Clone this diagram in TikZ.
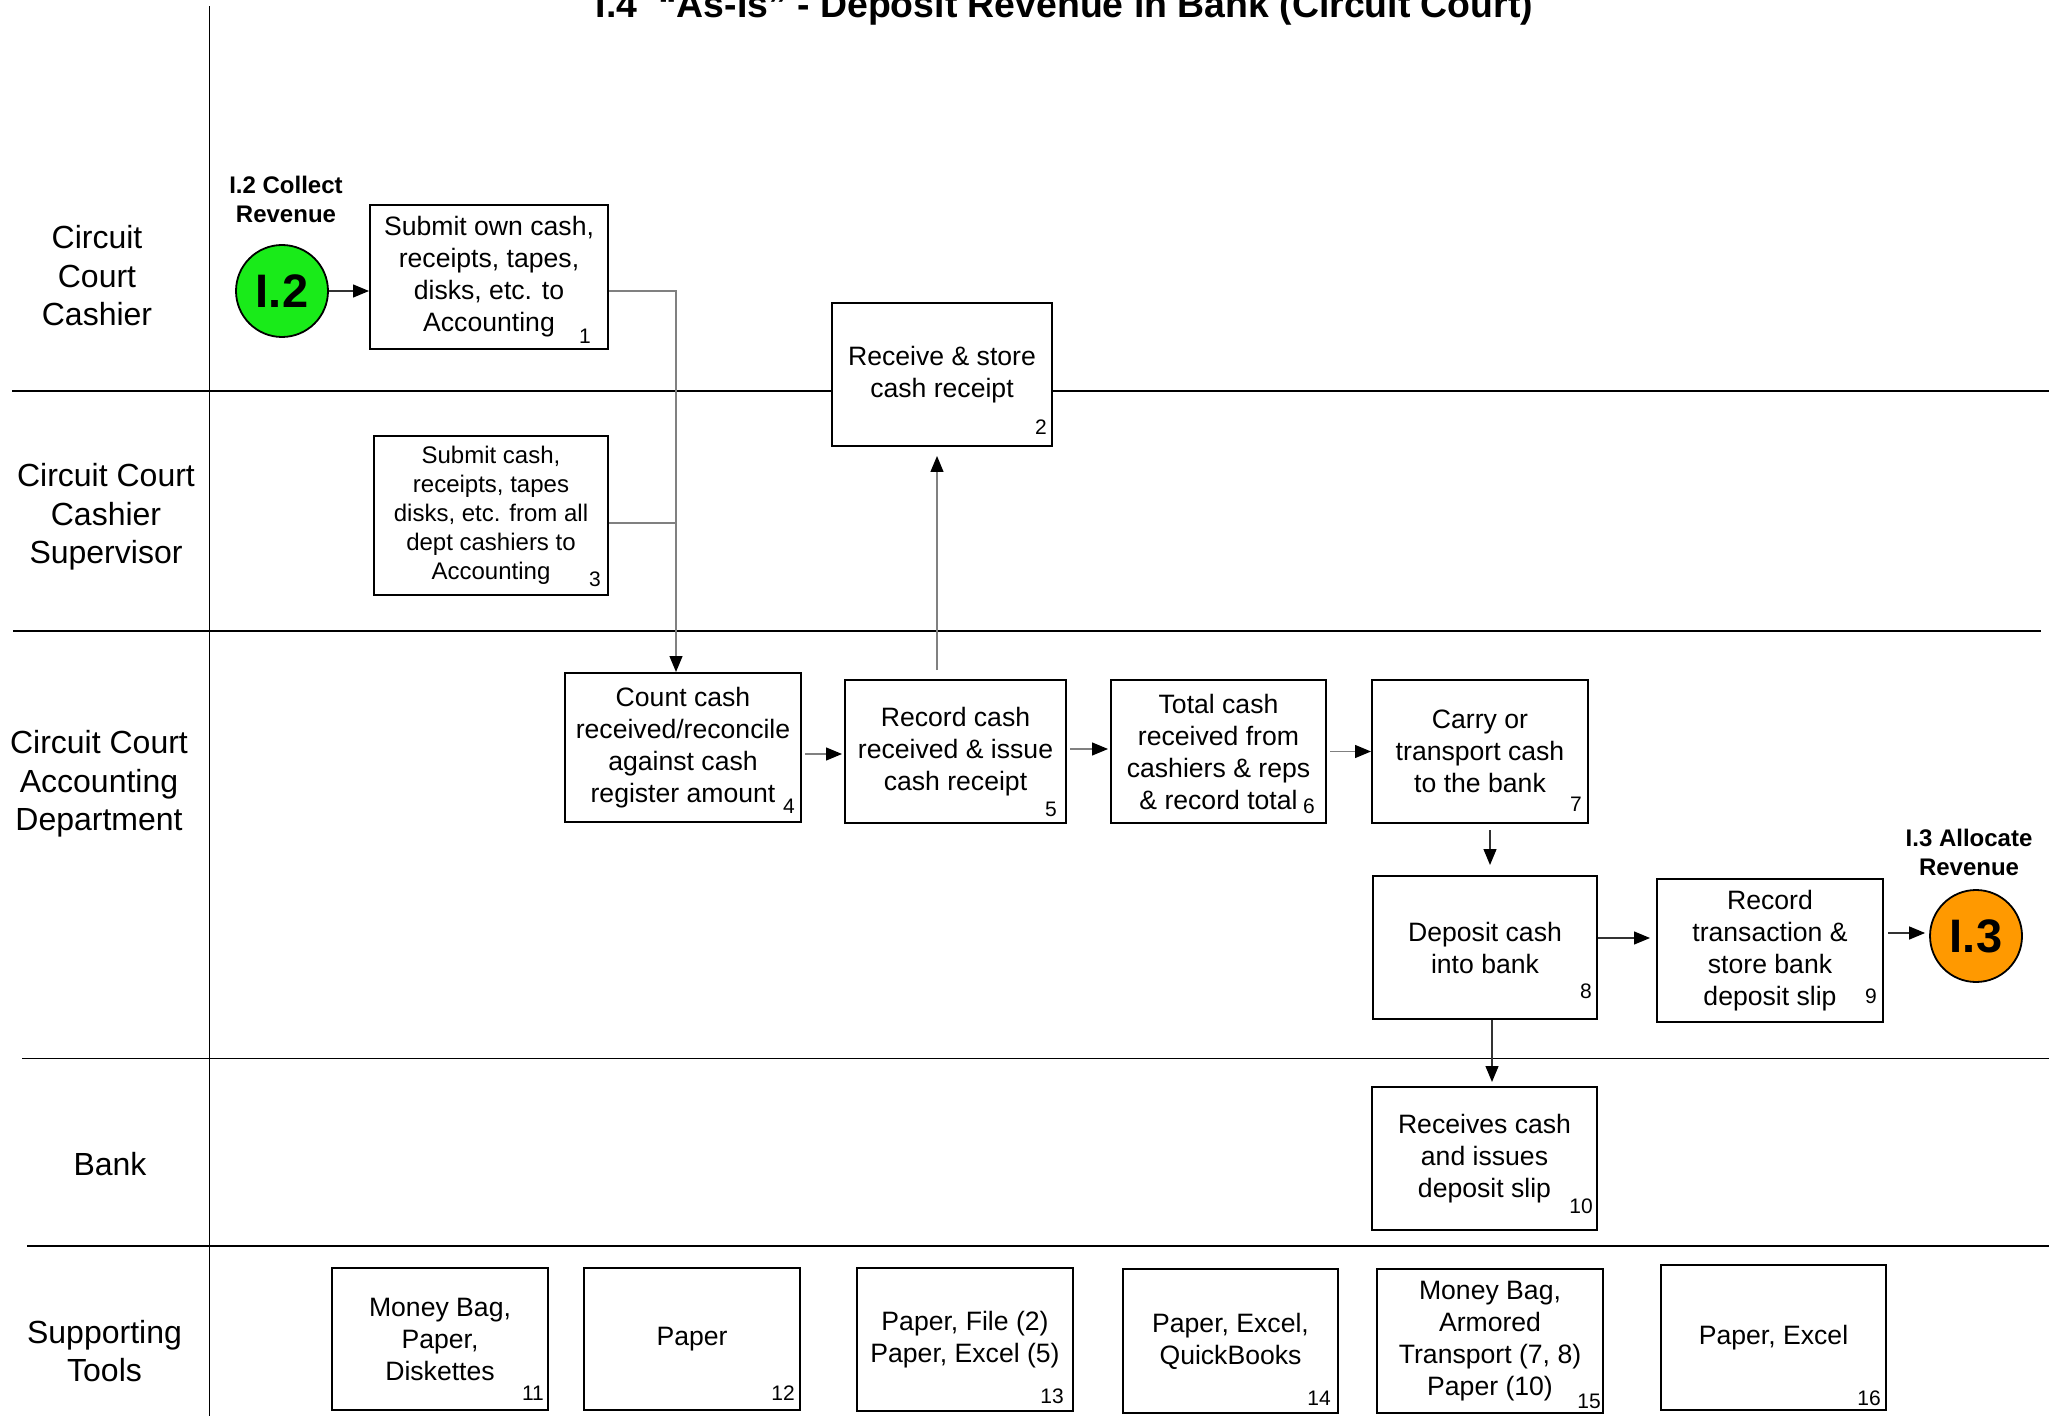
\documentclass[tikz,border=0pt]{standalone}
\usepackage{fontspec}
\setmainfont{Liberation Sans}
\usetikzlibrary{arrows.meta}
\definecolor{conngray}{RGB}{128,128,128}
\definecolor{conndark}{RGB}{50,50,50}
\definecolor{startgreen}{RGB}{25,235,25}
\definecolor{endorange}{RGB}{255,153,0}

\begin{document}
\begin{tikzpicture}[x=0.5pt,y=-0.5pt,
  lane/.style={line width=0.85pt},
  divider/.style={line width=0.5pt},
  proc/.style={draw, line width=1pt, fill=white, align=center, inner sep=0pt,
    font=\fontsize{13.3}{16}\selectfont},
  procsmall/.style={proc, font=\fontsize{12}{14.5}\selectfont},
  num/.style={inner sep=0pt, font=\fontsize{10.5}{12}\selectfont},
  lanelabel/.style={align=center, inner sep=0pt, font=\fontsize{16}{19.25}\selectfont},
  link/.style={draw, circle, line width=0.9pt, minimum size=46pt, inner sep=0pt,
    font=\fontsize{23.5}{26}\selectfont\bfseries},
  linktitle/.style={align=center, inner sep=0pt, font=\fontsize{12}{14.5}\selectfont\bfseries},
  tip/.style={-{Triangle[length=8pt,width=6.5pt,color=black]}},
  flow/.style={line width=0.65pt, draw=conndark, tip},
  grayline/.style={line width=0.65pt, draw=conngray},
  grayflow/.style={grayline, tip},
]
\useasboundingbox (0,0) rectangle (2049,1416);

% title
\node[anchor=base, inner sep=0pt, font=\fontsize{18.7}{22}\selectfont\bfseries] (title) at (1064.5,18)
  {I.4\ \ ``As-Is'' - Deposit Revenue in Bank (Circuit Court)};

% swim lanes
\draw[lane] (12,391) -- (2049,391);
\draw[lane] (13,631) -- (2041,631);
\draw[lane] (22,1058.5) -- (2049,1058.5);
\draw[lane] (27,1246) -- (2049,1246);
\draw[divider] (209,6.5) -- (209,1416);

\node[lanelabel] (l1) at (97,276) {Circuit\\Court\\Cashier};
\node[lanelabel] (l2) at (106,517) {Circuit Court\\Cashier\\Supervisor};
\node[lanelabel] (l3) at (99,784) {Circuit Court\\Accounting\\Department};
\node[lanelabel] (l4) at (110,1164) {Bank};
\node[lanelabel] (l5) at (104.5,1351) {Supporting\\Tools};

% off-page links
\node[linktitle] (t12) at (286,199) {I.2 Collect\\Revenue};
\node[link, fill=startgreen] (c12) at (282,291) {I.2};
\node[linktitle] (t13) at (1969,852) {I.3 Allocate\\Revenue};
\node[link, fill=endorange] (c13) at (1976,936) {I.3};

% process steps
\node[proc, minimum width=119pt, minimum height=72pt] (b1) at (489,277)
  {Submit own cash,\\receipts, tapes,\\disks, etc. to\\Accounting};
\node[proc, minimum width=110pt, minimum height=71.5pt] (b2) at (942,374.5)
  {Receive \& store\\cash receipt};
\node[procsmall, minimum width=117pt, minimum height=79.5pt] (b3) at (491,515.5)
  {Submit cash,\\receipts, tapes\\disks, etc. from all\\dept cashiers to\\Accounting};
\node[proc, minimum width=118pt, minimum height=74.5pt] (b4) at (683,747.5)
  {Count cash\\received/reconcile\\against cash\\register amount};
\node[proc, minimum width=110.5pt, minimum height=71.5pt] (b5) at (955.5,751.5)
  {Record cash\\received \& issue\\cash receipt};
\node[proc, minimum width=107.5pt, minimum height=71.5pt] (b6) at (1218.5,751.5)
  {Total cash\\received from\\cashiers \& reps\\\& record total};
\node[proc, minimum width=108pt, minimum height=71.5pt] (b7) at (1480,751.5)
  {Carry or\\transport cash\\to the bank};
\node[proc, minimum width=112pt, minimum height=71.5pt] (b8) at (1485,947.5)
  {Deposit cash\\into bank};
\node[proc, minimum width=113pt, minimum height=71.5pt] (b9) at (1770,950.5)
  {Record\\transaction \&\\store bank\\deposit slip};
\node[proc, minimum width=112.5pt, minimum height=71.5pt] (b10) at (1484.5,1158.5)
  {Receives cash\\and issues\\deposit slip};

% supporting tools
\node[proc, minimum width=108pt, minimum height=71pt] (b11) at (440,1339)
  {Money Bag,\\Paper,\\Diskettes};
\node[proc, minimum width=108pt, minimum height=71pt] (b12) at (692,1339) {Paper};
\node[proc, minimum width=108pt, minimum height=71.5pt] (b13) at (965,1339.5)
  {Paper, File (2)\\Paper, Excel (5)};
\node[proc, minimum width=107.5pt, minimum height=72pt] (b14) at (1230.5,1341)
  {Paper, Excel,\\QuickBooks};
\node[proc, minimum width=113pt, minimum height=72pt] (b15) at (1490,1341)
  {Money Bag,\\Armored\\Transport (7, 8)\\Paper (10)};
\node[proc, minimum width=112.5pt, minimum height=72.5pt] (b16) at (1773.5,1337.5)
  {Paper, Excel};

% step numbers
\node[num] (n1) at (585,336) {1};
\node[num] (n2) at (1041,427) {2};
\node[num] (n3) at (595,579) {3};
\node[num] (n4) at (789,806) {4};
\node[num] (n5) at (1051,809) {5};
\node[num] (n6) at (1309,806) {6};
\node[num] (n7) at (1576,804) {7};
\node[num] (n8) at (1586,991) {8};
\node[num] (n9) at (1871,996) {9};
\node[num] (n10) at (1581,1206) {10};
\node[num] (n11) at (533,1393) {11};
\node[num] (n12) at (783,1393) {12};
\node[num] (n13) at (1052,1396) {13};
\node[num] (n14) at (1319,1398) {14};
\node[num] (n15) at (1589,1401) {15};
\node[num] (n16) at (1869,1398) {16};

% connectors
\draw[flow] (c12) -- (c12 -| b1.west);
\coordinate (j) at (676,523);
\draw[grayline] (b1.east |- c12) -| (j);
\draw[grayline] (b3.east |- j) -- (j);
\draw[grayflow] (j) -- (j |- b4.north);
\draw[grayflow, shorten <=4.5pt, shorten >=4.5pt]
  ([xshift=-9.25pt]b5.north) -- ([xshift=-9.25pt]b5.north |- b2.south);
\draw[grayflow, shorten <=1.5pt, shorten >=1pt]
  ([yshift=-3.25pt]b4.east) -- ([yshift=-3.25pt]b4.east -| b5.west);
\draw[grayflow, shorten <=1.5pt, shorten >=1pt]
  ([yshift=1.25pt]b5.east) -- ([yshift=1.25pt]b5.east -| b6.west);
\draw[grayflow, shorten <=1.5pt] (b6.east) -- (b7.west);
\draw[flow, shorten <=3pt, shorten >=5pt]
  ([xshift=5pt]b7.south) -- ([xshift=5pt]b7.south |- b8.north);
\draw[flow, shorten >=3pt]
  ([yshift=4.75pt]b8.east) -- ([yshift=4.75pt]b8.east -| b9.west);
\draw[flow, shorten <=2pt, shorten >=2pt]
  ([yshift=8.75pt]b9.east) -- ([yshift=8.75pt]b9.east -| c13.west);
\draw[flow, shorten >=2pt]
  ([xshift=3.5pt]b8.south) -- ([xshift=3.5pt]b8.south |- b10.north);
\end{tikzpicture}
\end{document}
